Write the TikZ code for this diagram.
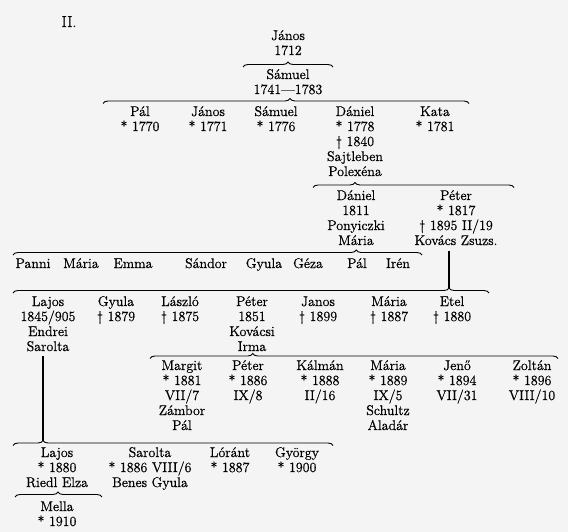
\documentclass[tikz,border=0pt]{standalone}
\usepackage{fontspec}
\setmainfont{Latin Modern Roman}[FakeBold=0.7]
\usetikzlibrary{decorations.pathreplacing}
\definecolor{bgc}{RGB}{244,244,244}
\newcommand\tb{\rule{0pt}{13pt}}
\tikzset{
  person/.style={anchor=north, inner sep=0pt, outer sep=0pt, align=center,
    font=\fontsize{14}{15}\selectfont, yshift=13pt},
  fam/.style={draw, decorate, decoration={brace, amplitude=5pt, aspect=#1}, line width=0.9pt},
  stem/.style={draw, line width=1.1pt}
}
\begin{document}
\begin{tikzpicture}[x=1pt,y=-1pt]
\fill[bgc] (0,0) rectangle (568,532);
\useasboundingbox (0,0) rectangle (568,532);

\node[person, font=\fontsize{16}{17}\selectfont] (roman) at (69,27) {\tb II.};

% generation 1-2
\node[person] (jan1) at (288,40) {\tb János\\1712};
\node[person] (sam1) at (288,79) {\tb Sámuel\\1741—1783};

% generation 3
\node[person] (pal2) at (140,116) {\tb Pál\\* 1770};
\node[person] (jan2) at (208,116) {\tb János\\* 1771};
\node[person] (sam2) at (276,116) {\tb Sámuel\\* 1776};
\node[person] (dan2) at (355,116) {\tb Dániel\\* 1778\\\textdagger{} 1840\\Sajtleben\\Polexéna};
\node[person] (kat2) at (435,116) {\tb Kata\\* 1781};

% generation 4
\node[person] (dan3) at (356,200) {\tb Dániel\\1811\\Ponyiczki\\Mária};
\node[person] (pet3) at (456,200) {\tb Péter\\* 1817\\\textdagger{} 1895 II/19\\Kovács Zsuzs.};

% children of Dániel
\node[person] (panni) at (33,268) {\tb Panni};
\node[person] (mar4) at (81,268) {\tb Mária};
\node[person] (emma) at (133,268) {\tb Emma};
\node[person] (sand) at (206,268) {\tb Sándor};
\node[person] (gyu4) at (264,268) {\tb Gyula};
\node[person] (geza) at (308,268) {\tb Géza};
\node[person] (pal4) at (357,268) {\tb Pál};
\node[person] (iren) at (398,268) {\tb Irén};

% children of Péter
\node[person] (laj5) at (48,306) {\tb Lajos\\1845/905\\Endrei\\Sarolta};
\node[person] (gyu5) at (116,306) {\tb Gyula\\\textdagger{} 1879};
\node[person] (lasz) at (180,306) {\tb László\\\textdagger{} 1875};
\node[person] (pet5) at (252,306) {\tb Péter\\1851\\Kovácsi\\Irma};
\node[person] (jan5) at (318,306) {\tb Janos\\\textdagger{} 1899};
\node[person] (mar5) at (389,306) {\tb Mária\\\textdagger{} 1887};
\node[person] (etel) at (452,306) {\tb Etel\\\textdagger{} 1880};

% children of Péter (1851)
\node[person] (marg) at (182,370) {\tb Margit\\* 1881\\VII/7\\Zámbor\\Pál};
\node[person] (pet6) at (248,370) {\tb Péter\\* 1886\\IX/8};
\node[person] (kalm) at (320,370) {\tb Kálmán\\* 1888\\II/16};
\node[person] (mar6) at (388,370) {\tb Mária\\* 1889\\IX/5\\Schultz\\Aladár};
\node[person] (jeno) at (457,370) {\tb Jenő\\* 1894\\VII/31};
\node[person] (zolt) at (532,370) {\tb Zoltán\\* 1896\\VIII/10};

% children of Lajos
\node[person] (laj7) at (57,457) {\tb Lajos\\* 1880\\Riedl Elza};
\node[person] (saro) at (150,457) {\tb Sarolta\\* 1886 VIII/6\\Benes Gyula};
\node[person] (lora) at (230,457) {\tb Lóránt\\* 1887};
\node[person] (gyor) at (297,457) {\tb György\\* 1900};

\node[person] (mell) at (57,511) {\tb Mella\\* 1910};

% brace end coordinates
\coordinate (b1l) at (243,67);  \coordinate (b1r) at (333,67);
\coordinate (b2l) at (103,103.5); \coordinate (b2r) at (469,103.5);
\coordinate (b3l) at (313,187.5); \coordinate (b3r) at (514,187.5);
\coordinate (b4l) at (13,255);  \coordinate (b4r) at (422,255);
\coordinate (b5l) at (13,293);  \coordinate (b5r) at (489,293);
\coordinate (b5t) at (449,288);
\coordinate (b6l) at (150,358.5); \coordinate (b6r) at (558,358.5);
\coordinate (b7l) at (13,445.5); \coordinate (b7r) at (333,445.5);
\coordinate (b7t) at (43,440.5);
\coordinate (b8l) at (15,497);  \coordinate (b8r) at (102,497);

\draw[fam=0.5] (b1l) -- (b1r);
\draw[fam=0.511] (b2l) -- (b2r);
\draw[fam=0.209] (b3l) -- (b3r);
\draw[fam=0.839] (b4l) -- (b4r);
\draw[fam=0.916] (b5l) -- (b5r);
\draw[fam=0.252] (b6l) -- (b6r);
\draw[fam=0.094] (b7l) -- (b7r);
\draw[fam=0.494] (b8l) -- (b8r);

\draw[stem] ([yshift=-6pt]pet3.south -| b5t) -- (b5t);
\draw[stem] ([yshift=-5pt]laj5.south -| b7t) -- (b7t);
\end{tikzpicture}
\end{document}
